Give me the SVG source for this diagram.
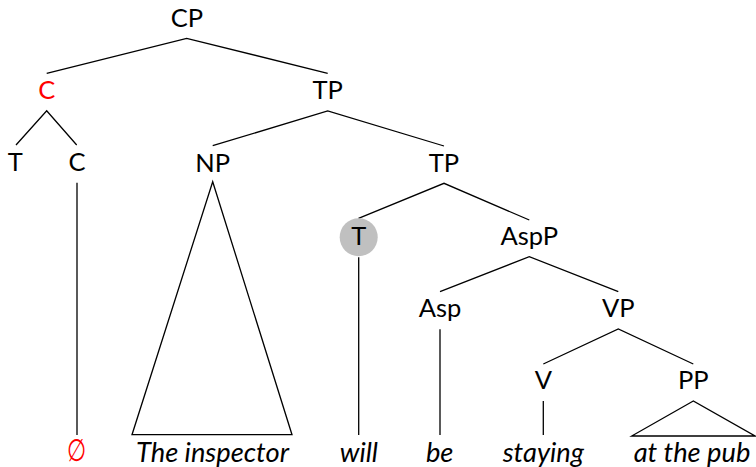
<svg xmlns="http://www.w3.org/2000/svg" width="756" height="467" viewBox="0 0 756 467">
<style>
text{font-family:Lato,"Open Sans","Liberation Sans",sans-serif;font-size:25.5px;fill:#000;text-anchor:middle}
.w{font-style:italic;font-size:27.3px}
.red{fill:#ff0000}
.e{stroke:#000;stroke-width:1.3;fill:none}
</style>
<rect width="756" height="467" fill="#fff"/>
<g id="connectors">
<path class="e" d="M46.7,73.3 L186.7,38.3 L327.7,73.3"/>
<path class="e" d="M16,145 L46.7,110.7 L76.7,145"/>
<path class="e" d="M212.7,145.7 L327.7,111 L444,146"/>
<path class="e" d="M358.5,218.3 L444,183.3 L529.3,220"/>
<path class="e" d="M440,291.7 L529.3,256.7 L618.3,291.7"/>
<path class="e" d="M543.3,364 L618.3,329 L693.3,364"/>
<path class="e" d="M77,182.7 V435"/>
<path class="e" d="M212.7,181.7 L132,434.7 H292 Z"/>
<path class="e" d="M358.7,257.3 V435"/>
<path class="e" d="M440,329.3 V435"/>
<path class="e" d="M543.3,401 V435"/>
<path class="e" d="M693.3,401 L631.7,436 H755 Z"/>
</g>
<g id="CP"><text x="187" y="27">CP</text></g>
<g id="C-top"><text class="red" x="46.7" y="99.3">C</text></g>
<g id="TP1"><text x="327.7" y="99.3">TP</text></g>
<g id="T1"><text x="15.3" y="171">T</text></g>
<g id="C1"><text x="77" y="171">C</text></g>
<g id="NP"><text x="212.7" y="171.5">NP</text></g>
<g id="TP2"><text x="444" y="171.5">TP</text></g>
<g id="T2"><circle cx="358.7" cy="237.3" r="19" fill="#c0c0c0"/><text x="358.7" y="244.5">T</text></g>
<g id="AspP"><text x="529.3" y="245">AspP</text></g>
<g id="Asp"><text x="440" y="316.7">Asp</text></g>
<g id="VP"><text x="618.3" y="316.7">VP</text></g>
<g id="V"><text x="543.3" y="389">V</text></g>
<g id="PP"><text x="693.3" y="389">PP</text></g>
<g id="w-null"><text class="red" x="77" y="461.5" transform="translate(77 461.5) scale(0.85 1.2) translate(-77 -461.5)">∅</text></g>
<g id="w-inspector"><text class="w" x="212.5" y="461.5">The inspector</text></g>
<g id="w-will"><text class="w" x="358.8" y="461.5">will</text></g>
<g id="w-be"><text class="w" x="439.7" y="461.5">be</text></g>
<g id="w-staying"><text class="w" x="543.3" y="461.5">staying</text></g>
<g id="w-pub"><text class="w" x="692" y="461.5">at the pub</text></g>
</svg>
